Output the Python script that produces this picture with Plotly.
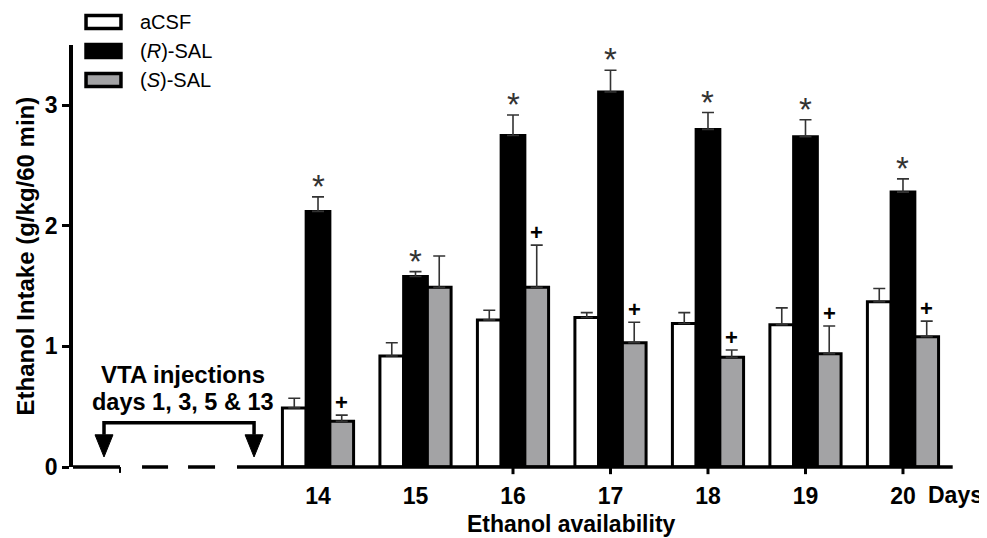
import plotly.graph_objects as go

days = [14, 15, 16, 17, 18, 19, 20]
day_labels = ["14", "15", "16", "17", "18", "19", "20"]

acsf = [0.49, 0.92, 1.22, 1.24, 1.19, 1.18, 1.37]
acsf_err = [0.08, 0.11, 0.08, 0.04, 0.09, 0.14, 0.11]
r_sal = [2.12, 1.58, 2.75, 3.11, 2.80, 2.74, 2.28]
r_sal_err = [0.12, 0.04, 0.17, 0.18, 0.14, 0.14, 0.11]
s_sal = [0.38, 1.49, 1.49, 1.03, 0.91, 0.94, 1.08]
s_sal_err = [0.05, 0.26, 0.35, 0.17, 0.06, 0.23, 0.13]

r_marks = ["*", "*", "*", "*", "*", "*", "*"]
s_marks = ["+", "", "+", "+", "+", "+", "+"]

FONT = "Liberation Sans, Arial, sans-serif"
BARGAP = 0.27
bw = (1 - BARGAP) / 3

fig = go.Figure()

def add_series(name, vals, errs, color):
    fig.add_bar(
        x=days, y=vals, name=name,
        marker=dict(color=color, line=dict(color="black", width=3)),
        error_y=dict(type="data", symmetric=False, array=errs,
                     arrayminus=[0] * len(errs), color="#333",
                     thickness=1.6, width=6),
    )

add_series("aCSF", acsf, acsf_err, "white")
add_series("(R)-SAL", r_sal, r_sal_err, "black")
add_series("(S)-SAL", s_sal, s_sal_err, "#a3a3a5")

annotations = []
for d, v, e, m in zip(days, r_sal, r_sal_err, r_marks):
    if m:
        annotations.append(dict(x=d, y=v + e, text=m, showarrow=False, yanchor="bottom",
                                yshift=-10, font=dict(family=FONT, size=33, color="#333")))
for d, v, e, m in zip(days, s_sal, s_sal_err, s_marks):
    if m:
        annotations.append(dict(x=d + bw, y=v + e, text=f"<b>{m}</b>", showarrow=False,
                                yanchor="bottom", yshift=-2,
                                font=dict(family=FONT, size=22, color="black")))

# axis titles / extra texts
annotations += [
    dict(xref="paper", yref="paper", x=-0.054, y=0.5, text="<b>Ethanol Intake (g/kg/60 min)</b>",
         textangle=-90, showarrow=False, xanchor="center", yanchor="middle",
         font=dict(family=FONT, size=24, color="black")),
    dict(xref="paper", yref="paper", x=0.566, y=-0.134, text="<b>Ethanol availability</b>",
         showarrow=False, xanchor="center", yanchor="middle",
         font=dict(family=FONT, size=23, color="black")),
    dict(xref="paper", yref="paper", x=1.003, y=-0.066, text="<b>Days</b>",
         showarrow=False, xanchor="center", yanchor="middle",
         font=dict(family=FONT, size=23, color="black")),
    dict(x=12.615, y=0.767, text="<b>VTA injections</b>", showarrow=False,
         xanchor="center", yanchor="middle", font=dict(family=FONT, size=24, color="black")),
    dict(x=12.615, y=0.542, text="<b>days 1, 3, 5 &amp; 13</b>", showarrow=False,
         xanchor="center", yanchor="middle", font=dict(family=FONT, size=23.5, color="black")),
]

# legend (drawn manually)
legend_items = [("aCSF", "white"), ("(<i>R</i>)-SAL", "black"), ("(<i>S</i>)-SAL", "#a3a3a5")]
legend_y = [1.0545, 0.9858, 0.9171]
shapes = []
for (lab, col), ly in zip(legend_items, legend_y):
    shapes.append(dict(type="rect", xref="paper", yref="paper", x0=0.0148, x1=0.0545,
                       y0=ly - 0.0155, y1=ly + 0.0155, fillcolor=col,
                       line=dict(color="black", width=3.5)))
    annotations.append(dict(xref="paper", yref="paper", x=0.0739, y=ly, text=lab,
                            showarrow=False, xanchor="left", yanchor="middle",
                            font=dict(family=FONT, size=20, color="black")))

AX = dict(color="black", width=3.5)
# x axis line: solid, broken (dashed) section, solid
shapes += [
    dict(type="line", xref="x", yref="paper", x0=11.43, x1=11.969, y0=0, y1=0, line=AX, layer="above"),
    dict(type="line", xref="x", yref="paper", x0=11.969, x1=11.969, y0=0, y1=-0.014, line=dict(color="black", width=2), layer="above"),
    dict(type="line", xref="x", yref="paper", x0=12.195, x1=12.462, y0=0, y1=0, line=AX, layer="above"),
    dict(type="line", xref="x", yref="paper", x0=12.667, x1=12.944, y0=0, y1=0, line=AX, layer="above"),
    dict(type="line", xref="x", yref="paper", x0=13.169, x1=20.51, y0=0, y1=0, line=AX, layer="above"),
]
for d in days[2:]:
    shapes.append(dict(type="line", xref="x", yref="paper", x0=d, x1=d, y0=0, y1=-0.017,
                       line=dict(color="black", width=3), layer="above"))

# injection bracket with arrows
bx0, bx1 = 11.805, 13.344
by, bbase, btip = 0.367, 0.267, 0.083
ahw = 0.092
shapes.append(dict(type="path", xref="x", yref="y",
                   path=f"M {bx0},{bbase} L {bx0},{by} L {bx1},{by} L {bx1},{bbase}",
                   line=dict(color="black", width=3.5)))
for bx in (bx0, bx1):
    shapes.append(dict(type="path", xref="x", yref="y",
                       path=f"M {bx - ahw},{bbase} L {bx + ahw},{bbase} L {bx},{btip} Z",
                       fillcolor="black", line=dict(color="black", width=1)))

# page body adds an 8px offset; size figure so it fills the window exactly
fig.update_layout(
    width=979, height=530,
    margin=dict(l=65, r=34, t=37, b=71),
    barmode="group", bargap=BARGAP, bargroupgap=0,
    plot_bgcolor="white", paper_bgcolor="white",
    showlegend=False,
    font=dict(family=FONT, color="black"),
    annotations=annotations, shapes=shapes,
    xaxis=dict(range=[11.487, 20.513], tickvals=days, ticktext=[f"<b>{t}</b>" for t in day_labels],
               ticks="outside", ticklen=8, tickcolor="rgba(0,0,0,0)",
               showline=False, showgrid=False, zeroline=False,
               tickfont=dict(family=FONT, size=23, color="black")),
    yaxis=dict(range=[0, 3.5], tickvals=[0, 1, 2, 3], ticktext=["<b>0</b>", "<b>1</b>", "<b>2</b>", "<b>3</b>"],
               ticks="outside", ticklen=7, tickwidth=3, tickcolor="black",
               showline=True, linecolor="black", linewidth=3.5,
               showgrid=False, zeroline=False,
               tickfont=dict(family=FONT, size=23, color="black")),
)

fig.write_html("out.html")
